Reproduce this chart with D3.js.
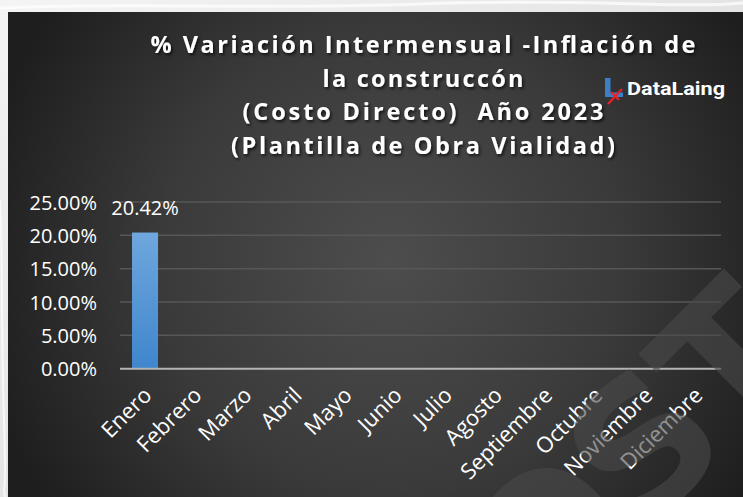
<!DOCTYPE html>
<html>
<head>
<meta charset="utf-8">
<script src="https://cdn.jsdelivr.net/npm/d3@7/dist/d3.min.js"></script>
<style>
  html, body { margin: 0; padding: 0; background: #e9e9e9; }
  svg { display: block; }
</style>
</head>
<body>
<svg id="chart" width="743" height="497"></svg>
<script>
// ---- data ----
const categories = ["Enero","Febrero","Marzo","Abril","Mayo","Junio","Julio","Agosto","Septiembre","Octubre","Noviembre","Diciembre"];
const values = [0.2042, null, null, null, null, null, null, null, null, null, null, null];
const yTicks = [0, 0.05, 0.10, 0.15, 0.20, 0.25];
const titleLines = ["% Variación Intermensual -Inflación de", "la construccón", "(Costo Directo)  Año 2023", "(Plantilla de Obra Vialidad)"];
const logoText = "DataLaing";
const watermarkText = "COSTOS";

// ---- layout ----
const W = 743, H = 497;
const plot = { left: 120, right: 721, top: 202, bottom: 368.7 };

const svg = d3.select("#chart");
const defs = svg.append("defs");

// outer marble-ish background
const og = defs.append("linearGradient").attr("id", "outer").attr("x1", 0).attr("y1", 0).attr("x2", 1).attr("y2", 1);
og.append("stop").attr("offset", 0).attr("stop-color", "#f4f4f4");
og.append("stop").attr("offset", 0.5).attr("stop-color", "#e4e4e4");
og.append("stop").attr("offset", 1).attr("stop-color", "#d8d8d8");
svg.append("rect").attr("width", W).attr("height", H).attr("fill", "url(#outer)");
const streaks = svg.append("g").attr("fill", "none").attr("stroke", "#ffffff").attr("stroke-opacity", 0.7);
streaks.append("path").attr("d", "M0,8 C120,2 260,10 420,4 S680,9 743,3").attr("stroke-width", 3);
streaks.append("path").attr("d", "M0,200 C3,260 1,330 4,420 S2,480 5,497").attr("stroke-width", 2);

// chart panel radial gradient
const rg = defs.append("radialGradient").attr("id", "panel")
  .attr("gradientUnits", "userSpaceOnUse")
  .attr("cx", 390).attr("cy", 260).attr("r", 420);
rg.append("stop").attr("offset", 0).attr("stop-color", "#4d4d4d");
rg.append("stop").attr("offset", 0.55).attr("stop-color", "#3a3a3a");
rg.append("stop").attr("offset", 1).attr("stop-color", "#1e1e1e");
svg.append("rect").attr("x", 8).attr("y", 12).attr("width", W - 8).attr("height", H - 12).attr("fill", "url(#panel)");

// bar gradient
const bg = defs.append("linearGradient").attr("id", "bar").attr("x1", 0).attr("y1", 0).attr("x2", 0).attr("y2", 1);
bg.append("stop").attr("offset", 0).attr("stop-color", "#6fa7dd");
bg.append("stop").attr("offset", 1).attr("stop-color", "#3f86cd");

// text shadow
const f = defs.append("filter").attr("id", "shadow").attr("x", "-10%").attr("y", "-30%").attr("width", "120%").attr("height", "160%");
f.append("feDropShadow").attr("dx", 1.5).attr("dy", 2).attr("stdDeviation", 1.5).attr("flood-color", "#000").attr("flood-opacity", 0.7);

// ---- scales ----
const x = d3.scaleBand().domain(categories).range([plot.left, plot.right]).paddingInner(0.48).paddingOuter(0.24);
const xl = d3.scaleBand().domain(categories).range([plot.left, plot.right]);
const y = d3.scaleLinear().domain([0, 0.25]).range([plot.bottom, plot.top]);
const fmt = d3.format(".2%");

// gridlines
svg.append("g").selectAll("line").data(yTicks.filter(d => d > 0)).join("line")
  .attr("x1", plot.left).attr("x2", plot.right)
  .attr("y1", d => y(d)).attr("y2", d => y(d))
  .attr("stroke", "#575757").attr("stroke-width", 1.5);

// y axis labels
const yAxis = d3.axisLeft(y).tickValues(yTicks).tickFormat(fmt).tickSize(0).tickPadding(0);
const ya = svg.append("g").attr("transform", "translate(97,0)").call(yAxis);
ya.select(".domain").remove();
ya.selectAll("text").attr("fill", "#ffffff").attr("font-family", "Open Sans").attr("font-size", 20).attr("dy", "0.35em");

// bars
const barData = categories.map((c, i) => ({ c, v: values[i] })).filter(d => d.v != null);
svg.append("g").selectAll("rect").data(barData).join("rect")
  .attr("x", d => x(d.c)).attr("width", x.bandwidth())
  .attr("y", d => y(d.v)).attr("height", d => y(0) - y(d.v))
  .attr("fill", "url(#bar)");

// data labels
svg.append("g").selectAll("text").data(barData).join("text")
  .attr("x", d => x(d.c) + x.bandwidth() / 2).attr("y", d => y(d.v) - 18)
  .attr("text-anchor", "middle")
  .attr("fill", "#ffffff").attr("font-family", "Open Sans").attr("font-size", 20)
  .text(d => fmt(d.v));

// x axis line
svg.append("line").attr("x1", plot.left).attr("x2", plot.right).attr("y1", y(0)).attr("y2", y(0))
  .attr("stroke", "#b4b4b4").attr("stroke-width", 2);

// x axis labels
const xAxis = d3.axisBottom(xl).tickSize(0).tickPadding(0);
const xa = svg.append("g").attr("transform", `translate(0,${y(0)})`).call(xAxis);
xa.select(".domain").remove();
xa.selectAll(".tick text")
  .attr("fill", "#ffffff").attr("font-family", "Open Sans").attr("font-size", 22)
  .attr("text-anchor", "end").attr("dy", 0).attr("y", 0)
  .attr("transform", "translate(8,28) rotate(-45)");

// title
const title = svg.append("g").attr("filter", "url(#shadow)");
const titleLens = [545, 201, 361, 384];
title.selectAll("text").data(titleLines).join("text")
  .attr("x", 423).attr("y", (d, i) => 53 + i * 33.5)
  .attr("text-anchor", "middle")
  .style("white-space", "pre")
  .attr("fill", "#ffffff").attr("font-family", "Open Sans").attr("font-weight", "bold").attr("font-size", 23.5)
  .attr("textLength", (d, i) => titleLens[i]).attr("lengthAdjust", "spacing")
  .text(d => d);

// logo
const logo = svg.append("g");
logo.append("path").attr("d", "M605,78 L610.5,78 L610.5,92.5 L623,92.5 L623,97 L605,97 Z").attr("fill", "#3d7fc6");
logo.append("line").attr("x1", 608).attr("y1", 104).attr("x2", 622).attr("y2", 89).attr("stroke", "#e8202a").attr("stroke-width", 2.2);
logo.append("line").attr("x1", 611).attr("y1", 92).attr("x2", 619).attr("y2", 100).attr("stroke", "#e8202a").attr("stroke-width", 2.2);
logo.append("text").attr("x", 627).attr("y", 94.5)
  .attr("fill", "#ffffff").attr("font-family", "Roboto").attr("font-weight", "bold").attr("font-size", 19)
  .attr("textLength", 98).attr("lengthAdjust", "spacingAndGlyphs")
  .text(logoText);

// watermark
svg.append("text")
  .attr("transform", "translate(450,728) rotate(-45)")
  .attr("fill", "#4a4a4a").attr("fill-opacity", 0.6)
  .attr("font-family", "DejaVu Sans").attr("font-weight", "bold").attr("font-size", 180)
  .attr("letter-spacing", -6)
  .text(watermarkText);
</script>
</body>
</html>
